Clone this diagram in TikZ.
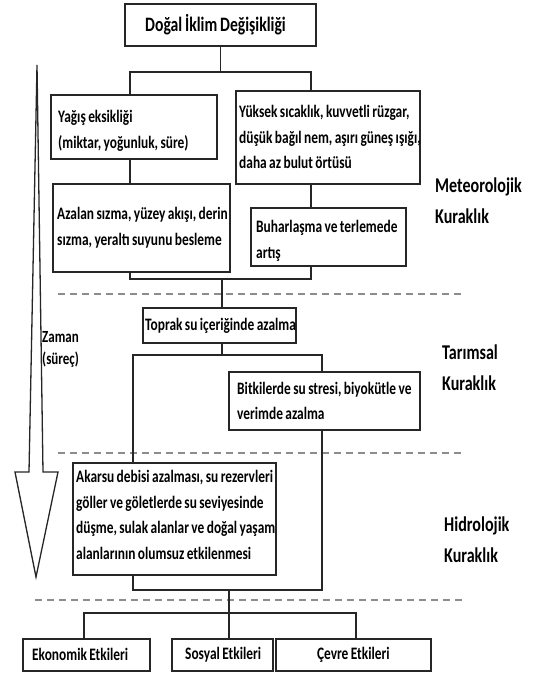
\documentclass[tikz,border=0pt]{standalone}
\usepackage{fontspec}
\setmainfont{Carlito}[FakeStretch=0.765,WordSpace=0.8]
\usetikzlibrary{positioning}
\hyphenpenalty=10000

\tikzset{
  kutu/.style={draw=black!85, line width=1.7pt, fill=white, inner sep=0pt, anchor=north west},
  yazi/.style={align=left, inner sep=0pt, font=\bfseries\fontsize{17.5}{25.5}\selectfont},
  bag/.style={draw=black!85, line width=1.3pt},
  ayrac/.style={draw=black!45, line width=2pt, dash pattern=on 7pt off 5pt},
  etiket/.style={anchor=west, align=left, inner sep=0pt, font=\bfseries\fontsize{21}{31}\selectfont},
}

\begin{document}
\begin{tikzpicture}[x=1pt,y=-1pt]
		\useasboundingbox (0,0) rectangle (537,674);
		% zaman oku
		\draw[line width=1.3pt, draw=black!85, fill=white, line join=miter] (37,65) -- (29,472) -- (15,472) -- (36,577) -- (58,472) -- (43,472) -- cycle;
		
		% ayraclar
		\draw[ayrac] (58,294) -- (463,294);
		\draw[ayrac] (58,453) -- (463,453);
		\draw[ayrac] (35,600) -- (463,600);
		
		% kutular
		\node[kutu, minimum width=191pt, minimum height=42pt]	(baslik)	at (124,3)	{};
		\node[kutu, minimum width=166pt, minimum height=64pt]	(yagis)		at (50,94)	{};
		\node[kutu, minimum width=184pt, minimum height=93pt]	(yuksek)	at (235,90)	{};
		\node[kutu, minimum width=177pt, minimum height=88pt]	(azalan)	at (52,183)	{};
		\node[kutu, minimum width=155pt, minimum height=58pt]	(buhar)		at (250,207)	{};
		\node[kutu, minimum width=153pt, minimum height=35pt]	(toprak)	at (142,307)	{};
		\node[kutu, minimum width=191pt, minimum height=58pt]	(bitki)		at (228,371)	{};
		\node[kutu, minimum width=203pt, minimum height=112pt]	(akarsu)	at (72,462)	{};
		\node[kutu, minimum width=127pt, minimum height=32pt]	(ekonomik)	at (22,638)	{};
		\node[kutu, minimum width=101pt, minimum height=32pt]	(sosyal)	at (171,638)	{};
		\node[kutu, minimum width=155pt, minimum height=32pt, font=\bfseries\fontsize{17.5}{25.5}\selectfont]	(cevre)	at (275,638)	{Çevre Etkileri};
		
		% kutu yazilari
		\node[yazi, right=21pt of baslik.west, font=\bfseries\fontsize{20.5}{25}\selectfont]	(baslik-y)	{Doğal İklim Değişikliği};
		\node[yazi, right=8pt of yagis.west, yshift=-4pt]	(yagis-y)	{Yağış eksikliği\\(miktar, yoğunluk, süre)};
		\node[yazi, right=4pt of yuksek.west]	(yuksek-y)	{Yüksek sıcaklık, kuvvetli rüzgar,\\düşük bağıl nem, aşırı güneş ışığı,\\daha az bulut örtüsü};
		\node[yazi, right=5pt of azalan.west]	(azalan-y)	{Azalan sızma, yüzey akışı, derin\\sızma, yeraltı suyunu besleme};
		\node[yazi, right=6pt of buhar.west, yshift=-4pt]	(buhar-y)	{Buharlaşma ve terlemede\\artış};
		\node[yazi, right=3pt of toprak.west]	(toprak-y)	{Toprak su içeriğinde azalma};
		\node[yazi, right=9pt of bitki.west]	(bitki-y)	{Bitkilerde su stresi, biyokütle ve\\verimde azalma};
		\node[yazi, right=4pt of akarsu.west, yshift=4pt]	(akarsu-y)	{Akarsu debisi azalması, su rezervleri\\göller ve göletlerde su seviyesinde\\düşme, sulak alanlar ve doğal yaşam\\alanlarının olumsuz etkilenmesi};
		\node[yazi, right=10pt of ekonomik.west]	(ekonomik-y)	{Ekonomik Etkileri};
		\node[yazi, right=14pt of sosyal.west]	(sosyal-y)	{Sosyal Etkileri};
		
		% kuraklik turleri
		\node[etiket]	(meteo)		at (435,200.5)	{Meteorolojik\\Kuraklık};
		\node[etiket]	(tarim)		at (442,367.5)	{Tarımsal\\Kuraklık};
		\node[etiket]	(hidro)		at (444,540)	{Hidrolojik\\Kuraklık};
		\node[etiket, font=\bfseries\fontsize{17}{22}\selectfont]	(zaman)	at (42,349)	{Zaman\\(süreç)};
		
		% baglantilar
		\coordinate (k1) at (130,72);
		\coordinate (k2) at (311,72);
		\coordinate (k3) at (130,279);
		\coordinate (k4) at (311,279);
		\coordinate (k5) at (222,279);
		\coordinate (k6) at (222,355);
		\coordinate (k7) at (133,355);
		\coordinate (k8) at (322,355);
		\coordinate (k9) at (133,590);
		\coordinate (k10) at (322,590);
		\coordinate (k11) at (229,590);
		\coordinate (k12) at (229,613);
		\coordinate (k13) at (84,613);
		\coordinate (k14) at (356,613);
		
		\draw[bag]	(baslik.south) -- (baslik.south |- k1);
		\draw[bag]	(k1 |- yagis.north) -- (k1) -- (k2) -- (k2 |- yuksek.north);
		\draw[bag]	(k1 |- yagis.south) -- (k1 |- azalan.north);
		\draw[bag]	(k2 |- yuksek.south) -- (k2 |- buhar.north);
		\draw[bag]	(k3 |- azalan.south) -- (k3) -- (k4) -- (k4 |- buhar.south);
		\draw[bag]	(k5) -- (k5 |- toprak.north);
		\draw[bag]	(k6 |- toprak.south) -- (k6);
		\draw[bag]	(k7 |- akarsu.north) -- (k7) -- (k8) -- (k8 |- bitki.north);
		\draw[bag]	(k9 |- akarsu.south) -- (k9) -- (k10) -- (k10 |- bitki.south);
		\draw[bag]	(k11) -- (k12);
		\draw[bag]	(k13 |- ekonomik.north) -- (k13) -- (k14) -- (k14 |- cevre.north);
		\draw[bag]	(k12) -- (k12 |- sosyal.north);
\end{tikzpicture}
\end{document}
